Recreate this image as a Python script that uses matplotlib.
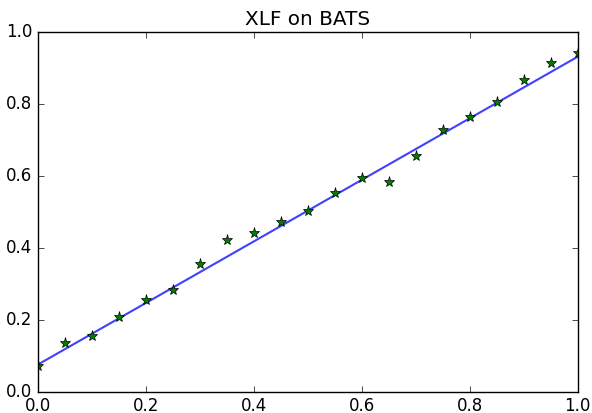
import numpy as np
import matplotlib
matplotlib.use('Agg')
import matplotlib.pyplot as plt

plt.style.use('classic')

x = [0.0, 0.05, 0.1, 0.15, 0.2, 0.25, 0.3, 0.35, 0.4, 0.45, 0.5,
     0.55, 0.6, 0.65, 0.7, 0.75, 0.8, 0.85, 0.9, 0.95, 1.0]
y = [0.073, 0.137, 0.156, 0.207, 0.255, 0.282, 0.355, 0.421, 0.441, 0.471, 0.502,
     0.552, 0.593, 0.582, 0.655, 0.727, 0.763, 0.805, 0.866, 0.912, 0.940]

# fitted line params
line_intercept = 0.076
line_slope = 0.855

xs = np.array([0.0, 1.0])

fig = plt.figure(figsize=(5.92, 4.13), dpi=100, facecolor='white')
ax = fig.add_axes([0.064, 0.051, 0.912, 0.872])
ax.plot(xs, line_intercept + line_slope * xs, color='blue', alpha=0.75, linewidth=1.5)
ax.plot(x, y, '*', color='green', markeredgecolor='black', markersize=8)
ax.set_xlim(0, 1)
ax.set_ylim(0, 1)
ax.set_title('XLF on BATS')
fig.savefig('out.png', dpi=100, facecolor='white')
